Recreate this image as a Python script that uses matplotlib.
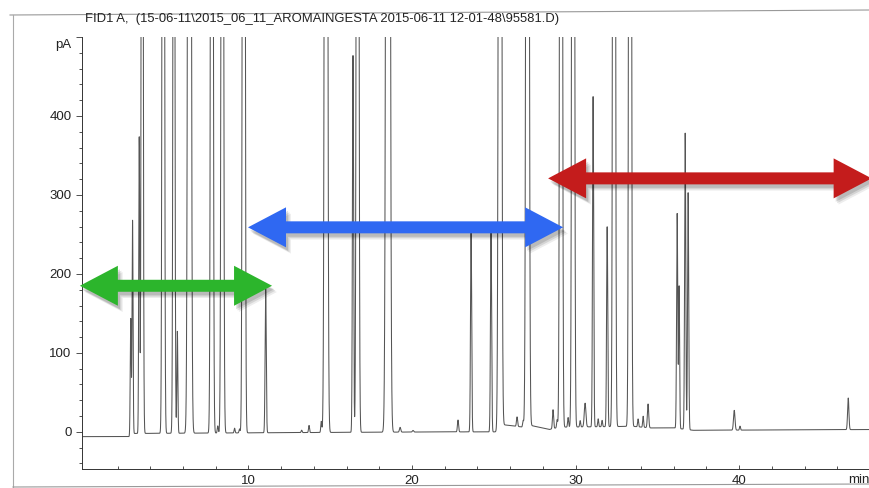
import numpy as np
import matplotlib.pyplot as plt
import matplotlib.patheffects as pe
from matplotlib.patches import Polygon
from matplotlib.lines import Line2D

plt.rcParams['font.family'] = ['Liberation Sans', 'DejaVu Sans']

title = "FID1 A,  (15-06-11\\2015_06_11_AROMAINGESTA 2015-06-11 12-01-48\\95581.D)"

# peaks: retention time (min), height (pA), sigma (min)
# heights above 500 are off-scale in the picture, just set tall
peak_rt = [2.80, 2.91, 3.32, 3.50, 4.79, 5.44, 5.65, 6.39, 7.76, 8.12, 8.40,
           9.15, 9.45, 9.71, 11.05, 13.25, 13.70, 14.45, 14.74, 16.39, 16.67,
           18.53, 19.27, 20.06, 22.81, 23.61, 24.83, 25.38, 26.42, 26.79, 27.06,
           28.62, 28.87, 29.11, 29.54, 29.85, 30.28, 30.58, 31.07, 31.38, 31.62,
           31.93, 32.35, 33.33, 33.82, 34.13, 34.43, 36.21, 36.33, 36.70, 36.88,
           39.70, 40.05, 46.67]
peak_h = [148, 271, 375, 1800, 2500, 1500, 129, 3000, 2500, 9, 2000,
          6, 5, 3000, 182, 3, 9, 14, 3000, 477, 2500,
          4000, 6, 2, 15, 256, 252, 3000, 12, 8, 3000,
          24, 10, 3000, 12, 3000, 8, 30, 418, 10, 8,
          253, 3000, 3000, 10, 14, 30, 272, 180, 375, 300,
          25, 5, 40]
peak_sd = [0.03, 0.03, 0.03, 0.045, 0.05, 0.045, 0.03, 0.07, 0.055, 0.03, 0.055,
           0.03, 0.03, 0.055, 0.035, 0.03, 0.03, 0.03, 0.065, 0.035, 0.055,
           0.08, 0.04, 0.04, 0.035, 0.035, 0.035, 0.065, 0.035, 0.03, 0.065,
           0.035, 0.03, 0.055, 0.03, 0.055, 0.03, 0.05, 0.035, 0.03, 0.03,
           0.035, 0.055, 0.055, 0.03, 0.03, 0.04, 0.035, 0.03, 0.035, 0.035,
           0.045, 0.03, 0.04]

# baseline knots (min, pA)
base_rt = [-0.3, 2.7, 3.0, 12.0, 22.0, 25.3, 25.6, 26.8, 27.3, 28.4, 29.0,
           33.5, 34.6, 36.0, 37.2, 48.2]
base_pa = [-6, -6, -2, -1, 0, 0, 9, 6, 8, 3, 6, 7, 5, 5, 2, 3]

# coloured range arrows: from, to (min), level (pA)
arrow_from = [-0.31, 9.97, 28.32]
arrow_to = [11.44, 29.24, 48.1]
arrow_level = [185, 259, 321]
arrow_colors = ['#2cb52c', '#2f68f2', '#c41c1c']

t = np.arange(-0.2, 48.1, 0.002)
signal = np.interp(t, base_rt, base_pa)
for rt, h, sd in zip(peak_rt, peak_h, peak_sd):
    signal = signal + h * np.exp(-0.5 * ((t - rt) / sd) ** 2)

W, H = 870, 488
fig = plt.figure(figsize=(W / 100, H / 100), dpi=100)
ax_l, ax_r, ax_t, ax_b = 82, 870, 37, 469
ax = fig.add_axes([ax_l / W, (H - ax_b) / H, (ax_r - ax_l) / W, (ax_b - ax_t) / H])

ax.plot(t, signal, color='#555555', lw=0.75)
ax.set_xlim(-0.18, 48.0)
ax.set_ylim(-47, 500)

for s in ['top', 'right']:
    ax.spines[s].set_visible(False)
for s in ['left', 'bottom']:
    ax.spines[s].set_color('#333333')
    ax.spines[s].set_linewidth(0.7)

ax.set_yticks([0, 100, 200, 300, 400, 500])
ax.set_yticklabels(['0', '100', '200', '300', '400', ''])
ax.set_yticks(np.arange(-40, 500, 20), minor=True)
ax.set_xticks([10, 20, 30, 40])
ax.set_xticks(np.arange(2, 48, 2), minor=True)
ax.tick_params(axis='y', which='major', direction='out', length=4.5, width=0.6,
               pad=3, labelsize=9.5, colors='#333333', labelcolor='#222222')
ax.tick_params(axis='y', which='minor', direction='out', length=2.2, width=0.6,
               colors='#333333')
ax.tick_params(axis='x', which='major', direction='in', length=3, width=0.6,
               pad=4, labelsize=9.5, colors='#333333', labelcolor='#222222')
ax.tick_params(axis='x', which='minor', direction='in', length=2.5, width=0.6,
               colors='#333333')

ax.annotate('pA', xy=(0, 490), xycoords=('axes fraction', 'data'),
            xytext=(-7.5, 0), textcoords='offset points', ha='right',
            va='center', fontsize=9.5, color='#222222')
ax.text(0.999, -0.012, 'min', transform=ax.transAxes, ha='right',
        va='top', fontsize=9.5, color='#222222', clip_on=False)

fig.text(85 / W, 1 - 19 / H, title, ha='left', va='center', fontsize=9.4,
         color='#222222')

# page edges of the scan
fig.add_artist(Line2D([10 / W, 1], [1 - 15 / H, 1 - 10 / H], color='#999999', lw=0.8))
fig.add_artist(Line2D([13 / W, 13 / W], [0, 1 - 15 / H], color='#aaaaaa', lw=0.8))
fig.add_artist(Line2D([13 / W, 1], [1 - 487 / H, 1 - 484 / H], color='#999999', lw=0.8))

# double arrows built in pixel sizes, turned into data units
px_x = (ax_r - ax_l) / (48.0 + 0.18)
px_y = (ax_b - ax_t) / (500 + 47)
head_len, head_half, shaft_half = 38 / px_x, 20 / px_y, 6 / px_y
shadow = [pe.SimplePatchShadow(offset=(1.5, -2.5), shadow_rgbFace='k', alpha=0.12),
          pe.SimplePatchShadow(offset=(2.5, -3.5), shadow_rgbFace='k', alpha=0.10),
          pe.SimplePatchShadow(offset=(3.5, -4.5), shadow_rgbFace='k', alpha=0.07),
          pe.Normal()]
for x0, x1, y, c in zip(arrow_from, arrow_to, arrow_level, arrow_colors):
    verts = [(x0, y), (x0 + head_len, y + head_half), (x0 + head_len, y + shaft_half),
             (x1 - head_len, y + shaft_half), (x1 - head_len, y + head_half), (x1, y),
             (x1 - head_len, y - head_half), (x1 - head_len, y - shaft_half),
             (x0 + head_len, y - shaft_half), (x0 + head_len, y - head_half)]
    arr = Polygon(verts, closed=True, facecolor=c, edgecolor='none', clip_on=False,
                  zorder=5)
    arr.set_path_effects(shadow)
    ax.add_patch(arr)

fig.savefig('out.png', dpi=100)
